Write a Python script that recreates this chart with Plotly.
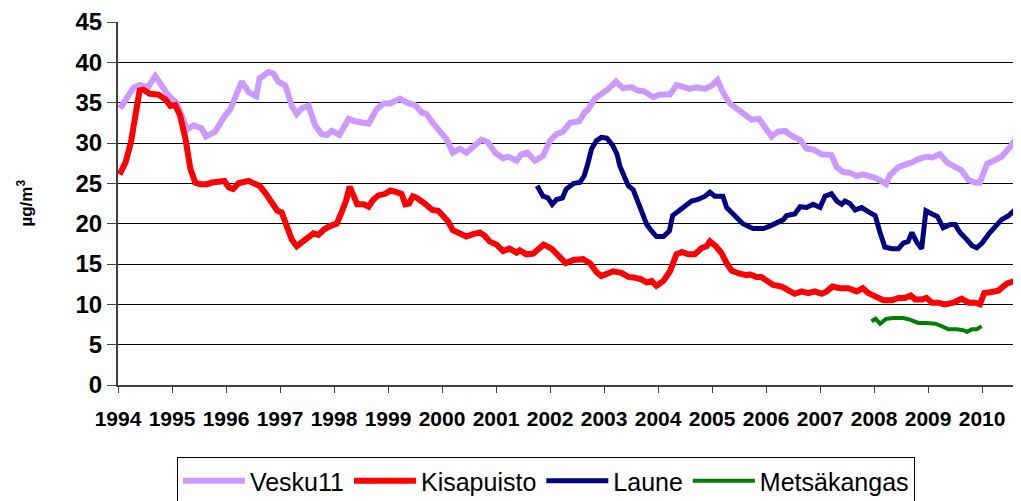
import plotly.graph_objects as go

# ---- data (decimal year, µg/m3) ----
vesku_x = [1994.04, 1994.29, 1994.41, 1994.55, 1994.69, 1994.91, 1995.09, 1995.28, 1995.40, 1995.55,
           1995.63, 1995.80, 1995.96, 1996.08, 1996.29, 1996.42, 1996.56, 1996.62, 1996.79, 1996.88,
           1996.97, 1997.10, 1997.22, 1997.31, 1997.40, 1997.53, 1997.65, 1997.77, 1997.87, 1997.96,
           1998.10, 1998.27, 1998.39, 1998.51, 1998.64, 1998.79, 1998.92, 1999.04, 1999.22, 1999.35,
           1999.50, 1999.62, 1999.71, 1999.84, 1999.96, 2000.08, 2000.20, 2000.33, 2000.45, 2000.61,
           2000.73, 2000.85, 2000.98, 2001.13, 2001.22, 2001.38, 2001.47, 2001.58, 2001.72, 2001.87,
           2002.00, 2002.12, 2002.24, 2002.37, 2002.54, 2002.64, 2002.70, 2002.83, 2002.95, 2003.08,
           2003.22, 2003.35, 2003.51, 2003.63, 2003.74, 2003.91, 2004.03, 2004.22, 2004.34, 2004.47,
           2004.59, 2004.71, 2004.87, 2004.99, 2005.10, 2005.20, 2005.33, 2005.45, 2005.61, 2005.73,
           2005.87, 2005.98, 2006.10, 2006.22, 2006.35, 2006.47, 2006.63, 2006.75, 2006.87, 2007.03,
           2007.21, 2007.31, 2007.43, 2007.55, 2007.68, 2007.80, 2007.92, 2008.05, 2008.22, 2008.29,
           2008.45, 2008.57, 2008.70, 2008.82, 2008.97, 2009.07, 2009.22, 2009.35, 2009.50, 2009.62,
           2009.75, 2009.87, 2009.96, 2010.09, 2010.24, 2010.36, 2010.52, 2010.61, 2010.67, 2010.72]
vesku_y = [34.3, 36.9, 37.2, 36.9, 38.3, 36.1, 34.9, 31.7, 32.2, 31.8,
           30.8, 31.4, 33.2, 34.2, 37.6, 36.3, 35.8, 38.0, 38.8, 38.6,
           37.6, 37.1, 34.6, 33.6, 34.3, 34.6, 32.2, 31.1, 31.0, 31.5,
           31.0, 33.0, 32.7, 32.6, 32.4, 34.2, 34.9, 34.9, 35.5, 35.0,
           34.7, 33.8, 33.6, 32.4, 31.4, 30.5, 28.8, 29.3, 28.8, 29.7,
           30.4, 30.1, 28.8, 28.1, 28.3, 27.8, 28.6, 28.8, 27.8, 28.4,
           30.3, 31.1, 31.4, 32.5, 32.7, 33.8, 34.1, 35.5, 36.0, 36.7,
           37.6, 36.8, 36.9, 36.5, 36.4, 35.7, 36.0, 36.0, 37.2, 36.9,
           36.7, 36.9, 36.7, 37.1, 37.8, 36.3, 34.9, 34.3, 33.4, 32.9,
           33.0, 32.0, 30.8, 31.4, 31.5, 30.9, 30.4, 29.3, 29.2, 28.6,
           28.5, 27.0, 26.4, 26.3, 25.9, 26.1, 25.9, 25.6, 24.9, 26.0,
           27.0, 27.2, 27.6, 28.0, 28.3, 28.2, 28.6, 27.6, 27.1, 26.6,
           25.4, 25.1, 25.1, 27.4, 27.9, 28.3, 29.5, 30.4, 31.8, 32.2]

kisa_x = [1994.03, 1994.14, 1994.24, 1994.32, 1994.40, 1994.47, 1994.59, 1994.75, 1994.88, 1994.97,
          1995.06, 1995.15, 1995.25, 1995.34, 1995.43, 1995.52, 1995.65, 1995.74, 1995.86, 1995.97,
          1996.05, 1996.13, 1996.23, 1996.32, 1996.42, 1996.51, 1996.62, 1996.73, 1996.85, 1996.95,
          1997.03, 1997.13, 1997.22, 1997.31, 1997.44, 1997.53, 1997.62, 1997.71, 1997.82, 1997.93,
          1998.05, 1998.14, 1998.22, 1998.29, 1998.36, 1998.43, 1998.55, 1998.64, 1998.73, 1998.82,
          1998.95, 1999.04, 1999.16, 1999.25, 1999.32, 1999.39, 1999.46, 1999.53, 1999.66, 1999.75,
          1999.82, 1999.93, 2000.05, 2000.11, 2000.20, 2000.33, 2000.45, 2000.57, 2000.70, 2000.79,
          2000.88, 2001.01, 2001.13, 2001.25, 2001.38, 2001.44, 2001.56, 2001.69, 2001.78, 2001.88,
          2002.03, 2002.15, 2002.29, 2002.43, 2002.61, 2002.74, 2002.86, 2002.95, 2003.05, 2003.17,
          2003.32, 2003.45, 2003.57, 2003.69, 2003.79, 2003.88, 2003.97, 2004.10, 2004.22, 2004.34,
          2004.44, 2004.56, 2004.68, 2004.81, 2004.90, 2004.96, 2005.07, 2005.17, 2005.27, 2005.36,
          2005.51, 2005.64, 2005.70, 2005.82, 2005.91, 2006.01, 2006.13, 2006.29, 2006.41, 2006.53,
          2006.66, 2006.78, 2006.90, 2007.03, 2007.12, 2007.23, 2007.37, 2007.52, 2007.68, 2007.79,
          2007.89, 2008.05, 2008.17, 2008.33, 2008.45, 2008.57, 2008.68, 2008.76, 2008.88, 2008.97,
          2009.07, 2009.19, 2009.31, 2009.47, 2009.62, 2009.75, 2009.87, 2009.96, 2010.04, 2010.15,
          2010.30, 2010.46, 2010.58, 2010.72]
kisa_y = [26.1, 27.6, 30.1, 33.4, 36.5, 36.6, 36.1, 36.0, 35.4, 34.6,
          34.7, 33.4, 30.5, 26.8, 25.1, 24.9, 24.9, 25.1, 25.2, 25.3,
          24.5, 24.3, 25.0, 25.1, 25.3, 25.0, 24.7, 23.8, 22.7, 21.6,
          21.4, 19.7, 18.0, 17.2, 17.8, 18.3, 18.8, 18.6, 19.3, 19.7,
          20.0, 21.4, 22.8, 24.6, 23.4, 22.4, 22.4, 22.1, 23.0, 23.5,
          23.7, 24.1, 23.9, 23.7, 22.4, 22.5, 23.4, 23.2, 22.6, 22.2,
          21.7, 21.6, 20.6, 20.3, 19.2, 18.8, 18.4, 18.7, 18.9, 18.5,
          17.8, 17.4, 16.6, 16.9, 16.4, 16.7, 16.2, 16.3, 16.8, 17.4,
          16.9, 16.0, 15.1, 15.5, 15.6, 15.1, 14.0, 13.5, 13.8, 14.1,
          13.9, 13.4, 13.3, 13.1, 12.7, 12.9, 12.3, 12.9, 14.1, 16.2,
          16.5, 16.2, 16.2, 17.0, 17.2, 17.8, 17.2, 16.4, 15.1, 14.2,
          13.8, 13.6, 13.7, 13.4, 13.4, 13.0, 12.4, 12.2, 11.8, 11.3,
          11.6, 11.4, 11.6, 11.3, 11.6, 12.2, 12.0, 12.0, 11.6, 12.0,
          11.4, 10.9, 10.5, 10.5, 10.8, 10.8, 11.1, 10.6, 10.6, 10.8,
          10.2, 10.2, 10.0, 10.2, 10.7, 10.2, 10.2, 10.0, 11.4, 11.5,
          11.7, 12.6, 12.9, 13.1]

laune_x = [2001.76, 2001.87, 2001.96, 2002.04, 2002.12, 2002.23, 2002.30, 2002.44, 2002.55, 2002.63,
           2002.69, 2002.77, 2002.86, 2002.95, 2003.05, 2003.16, 2003.24, 2003.29, 2003.37, 2003.45,
           2003.54, 2003.63, 2003.71, 2003.79, 2003.88, 2003.97, 2004.10, 2004.21, 2004.27, 2004.37,
           2004.50, 2004.62, 2004.74, 2004.87, 2004.96, 2005.05, 2005.20, 2005.27, 2005.42, 2005.57,
           2005.76, 2005.95, 2006.07, 2006.22, 2006.32, 2006.38, 2006.53, 2006.63, 2006.75, 2006.87,
           2007.00, 2007.09, 2007.21, 2007.31, 2007.40, 2007.46, 2007.55, 2007.65, 2007.77, 2007.89,
           2008.02, 2008.11, 2008.20, 2008.33, 2008.45, 2008.54, 2008.63, 2008.70, 2008.79, 2008.88,
           2008.96, 2009.07, 2009.17, 2009.28, 2009.41, 2009.50, 2009.59, 2009.72, 2009.81, 2009.90,
           2010.00, 2010.12, 2010.24, 2010.36, 2010.49, 2010.61, 2010.72]
laune_y = [24.7, 23.4, 23.2, 22.4, 23.0, 23.2, 24.3, 25.0, 25.1, 25.9,
           27.2, 29.3, 30.3, 30.7, 30.6, 29.7, 28.6, 27.2, 25.9, 24.7,
           24.2, 22.7, 21.0, 19.9, 19.1, 18.4, 18.4, 19.1, 21.0, 21.6,
           22.2, 22.8, 23.0, 23.4, 23.9, 23.4, 23.4, 22.0, 21.0, 20.0,
           19.4, 19.4, 19.7, 20.1, 20.5, 21.0, 21.2, 22.1, 22.0, 22.4,
           22.0, 23.4, 23.7, 22.8, 22.4, 22.8, 22.5, 21.7, 22.0, 21.5,
           21.0, 18.9, 17.1, 16.9, 16.9, 17.6, 17.8, 18.9, 17.7, 16.9,
           21.6, 21.2, 20.9, 19.5, 19.9, 19.9, 18.9, 18.0, 17.3, 17.0,
           17.6, 18.7, 19.7, 20.5, 21.0, 21.8, 22.4]

mets_x = [2007.95, 2008.03, 2008.11, 2008.22, 2008.36, 2008.54, 2008.66, 2008.82, 2008.97, 2009.13,
          2009.25, 2009.38, 2009.53, 2009.65, 2009.72, 2009.81, 2009.90, 2009.99]
mets_y = [7.9, 8.2, 7.6, 8.2, 8.3, 8.3, 8.1, 7.7, 7.7, 7.6,
          7.3, 6.9, 6.9, 6.8, 6.6, 6.9, 6.9, 7.3]

years = list(range(1994, 2011))
year_labels = [str(y) for y in years]

series = [
    ("Vesku11", vesku_x, vesku_y, "#CC99FF", 6),
    ("Kisapuisto", kisa_x, kisa_y, "#FF0000", 6),
    ("Laune", laune_x, laune_y, "#000080", 5),
    ("Metsäkangas", mets_x, mets_y, "#008000", 4),
]

FONT = "Liberation Sans, Arial, sans-serif"

fig = go.Figure()
for name, xs, ys, col, w in series:
    fig.add_trace(go.Scatter(x=xs, y=ys, name=name, mode="lines",
                             line=dict(color=col, width=w)))

# page body has an 8px margin: margins are shifted by 8px to compensate
fig.update_layout(
    width=1013, height=493,
    margin=dict(l=110, r=0, t=14, b=116, autoexpand=False),
    plot_bgcolor="white", paper_bgcolor="white",
    font=dict(family=FONT, color="black"),
    showlegend=True,
    legend=dict(orientation="h", xref="container", yref="container",
                x=0.531, xanchor="center", y=0.089, yanchor="top",
                bordercolor="black", borderwidth=1, bgcolor="white",
                font=dict(size=25, family=FONT),
                itemwidth=62, tracegroupgap=0),
    xaxis=dict(range=[1994, 2010.72], tickmode="array", tickvals=years, ticktext=year_labels,
               automargin=False,
               showgrid=False, zeroline=False, showline=True, linecolor="#404040", linewidth=2,
               ticks="outside", ticklen=6, tickcolor="#404040", tickwidth=1,
               tickfont=dict(size=21, family=FONT, color="black", weight="bold"),
               ticklabelstandoff=8),
    yaxis=dict(range=[0, 45], tickmode="linear", tick0=0, dtick=5, automargin=False,
               showgrid=True, gridcolor="black", gridwidth=1,
               zeroline=False, showline=True, linecolor="#404040", linewidth=2,
               ticks="outside", ticklen=9, tickcolor="#404040", tickwidth=1,
               tickfont=dict(size=24, family=FONT, color="black", weight="bold")),
    annotations=[dict(text="<b>µg/m<sup>3</sup></b>", xref="paper", yref="paper",
                      x=-0.104, y=0.50, xanchor="center", yanchor="middle",
                      textangle=-90, showarrow=False,
                      font=dict(size=17, family=FONT, color="black"))],
)

fig.write_html("out.html")
